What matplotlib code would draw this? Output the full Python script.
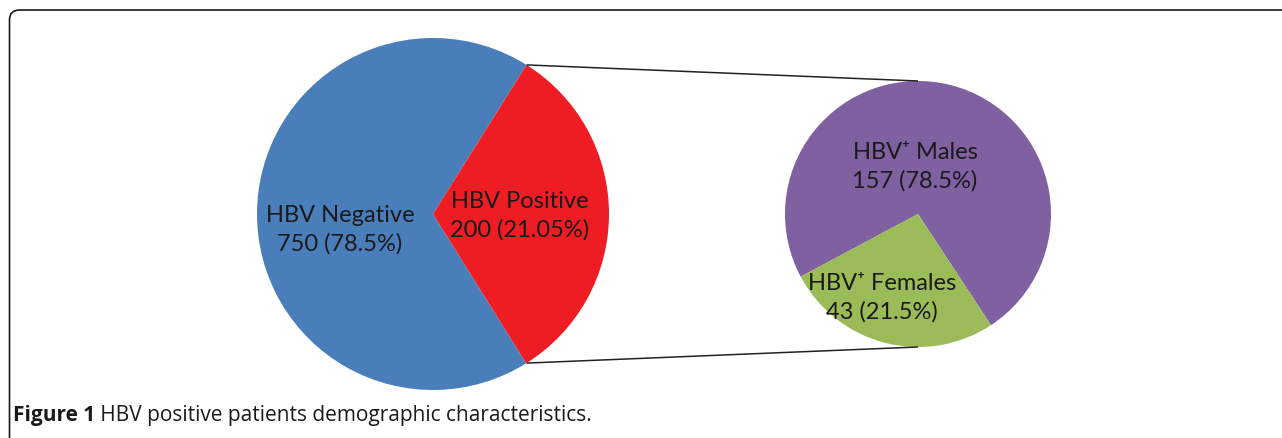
import numpy as np
import matplotlib
matplotlib.use("Agg")
import matplotlib.pyplot as plt
from matplotlib.path import Path
from matplotlib.patches import PathPatch

# ---- data ----
main_labels = ["HBV Negative\n750 (78.5%)", "HBV Positive\n200 (21.05%)"]
main_counts = [750, 200]
main_drawn_share = [0.678, 0.322]          # slice sizes as drawn in the figure
main_colors = ["#4A7EBB", "#EE1D24"]

sub_labels = ["HBV\u207a Males\n157 (78.5%)", "HBV\u207a Females\n43 (21.5%)"]
sub_counts = [157, 43]
sub_drawn_share = [0.7356, 0.2644]
sub_colors = ["#7F60A0", "#9BBB59"]

caption_bold = "Figure 1"
caption_text = " HBV positive patients demographic characteristics."

W, H = 1282, 439
fig = plt.figure(figsize=(W / 100, H / 100), dpi=100)
ax = fig.add_axes([0, 0, 1, 1])

FONT = ["Lato", "DejaVu Sans"]

# main pie
c1, r1, start1 = (433, H - 215), 176, 57.9
ax.pie(main_drawn_share, colors=main_colors, startangle=start1, center=c1,
       radius=r1, frame=True, wedgeprops=dict(linewidth=0))
# sub pie
c2, r2, start2 = (918, H - 215), 133, 303.3
ax.pie(sub_drawn_share, colors=sub_colors, startangle=start2, center=c2,
       radius=r2, frame=True, wedgeprops=dict(linewidth=0))

# connector lines
a = np.deg2rad(start1)
p_top = (c1[0] + r1 * np.cos(a), c1[1] + r1 * np.sin(a))
p_bot = (c1[0] + r1 * np.cos(-a), c1[1] + r1 * np.sin(-a))
ax.plot([p_top[0], c2[0]], [p_top[1], c2[1] + r2], color="#222222", lw=1.1,
        solid_capstyle="butt")
ax.plot([p_bot[0], c2[0]], [p_bot[1], c2[1] - r2], color="#222222", lw=1.1,
        solid_capstyle="butt")

# labels
lab_pos_main = [(340, H - 230), (520, H - 216)]
for (x, y), t in zip(lab_pos_main, main_labels):
    ax.text(x, y, t, ha="center", va="center", fontsize=17, family=FONT,
            color="#1a1a1a", linespacing=1.42)
lab_pos_sub = [(915, H - 167), (882, H - 298)]
for (x, y), t in zip(lab_pos_sub, sub_labels):
    ax.text(x, y, t, ha="center", va="center", fontsize=17, family=FONT,
            color="#1a1a1a", linespacing=1.42)

# frame (top + left with rounded corner)
top_y = H - 11
left_x = 9.5
rad = 10
verts = [(W + 2, top_y), (left_x + rad, top_y), (left_x, top_y),
         (left_x, top_y - rad), (left_x, -2)]
codes = [Path.MOVETO, Path.LINETO, Path.CURVE3, Path.CURVE3, Path.LINETO]
ax.add_patch(PathPatch(Path(verts, codes), fill=False, edgecolor="#1a1a1a", lw=1.2))

ax.set_xlim(0, W)
ax.set_ylim(0, H)
ax.set_aspect("auto")
ax.axis("off")

# caption
t1 = ax.text(13, H - 416, caption_bold, ha="left", va="center", fontsize=15,
             fontweight="bold", family=["Open Sans", "DejaVu Sans"], color="#1a1a1a")
fig.canvas.draw()
bb = t1.get_window_extent(fig.canvas.get_renderer())
ax.text(bb.x1, H - 416, caption_text, ha="left", va="center", fontsize=15,
        family=["Open Sans", "DejaVu Sans"], color="#1a1a1a")

fig.savefig("out.png", dpi=100, facecolor="white")
